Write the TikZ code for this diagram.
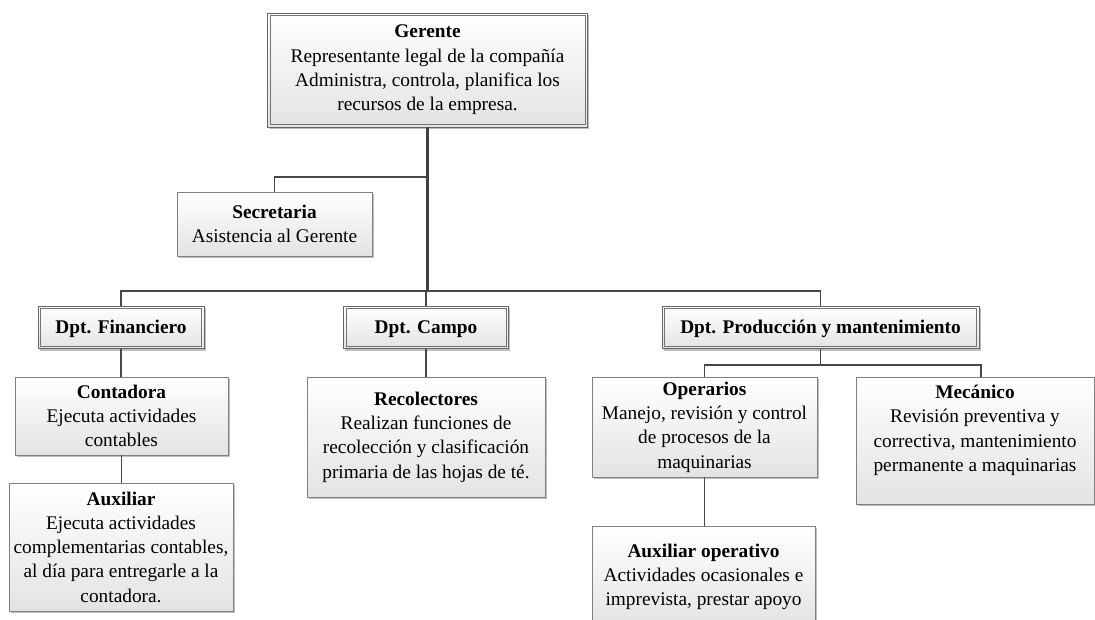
\documentclass[tikz,border=0pt]{standalone}
\usepackage{fontspec}
\setmainfont{Liberation Serif}
\usetikzlibrary{shadows}
\begin{document}
\begin{tikzpicture}[x=0.75pt,y=-0.75pt,
  txt/.style={font=\fontsize{14.5pt}{18.2pt}\selectfont, align=center},
  card/.style={txt, rectangle, draw=black!50, line width=0.6pt,
    top color=white, bottom color=black!11, inner sep=0pt,
    drop shadow={shadow xshift=1.4pt, shadow yshift=-1.4pt, fill=black!45, opacity=0.55}},
  headcard/.style={card, draw=black!60, line width=0.7pt},
  deptcard/.style={headcard, minimum height=32pt, text height=11pt, text depth=2pt},
  innerframe/.style={draw=black!55, line width=0.6pt},
  conn/.style={draw=black!72, line width=1.1pt},
  trunk/.style={draw=black!75, line width=2.3pt}]
\clip (0,0) rectangle (1095,620);
\fill[white] (0,0) rectangle (1095,620);

% top management
\node[headcard, minimum width=240pt, minimum height=85.5pt] (ger) at (427.5,70)
  {\textbf{Gerente}\\Representante legal de la compañía\\Administra, controla, planifica los\\recursos de la empresa.};
\node[card, minimum width=146.25pt, minimum height=48pt] (sec) at (274.5,224)
  {\textbf{Secretaria}\\Asistencia al Gerente};

% departments
\node[deptcard, minimum width=124.5pt] (fin) at (121,327.5) {\textbf{Dpt. Financiero}};
\node[deptcard, minimum width=123.75pt] (cam) at (426,327.5) {\textbf{Dpt. Campo}};
\node[deptcard, minimum width=237.75pt] (pro) at (820.5,327.5) {\textbf{Dpt. Producción y mantenimiento}};

% inner frame of the double-bordered boxes
\foreach \n in {ger,fin,cam,pro}
  \draw[innerframe] ([shift={(2.2pt,-2.2pt)}]\n.north west) rectangle ([shift={(-2.2pt,2.2pt)}]\n.south east);

% staff
\node[card, minimum width=159.75pt, minimum height=58.5pt] (con) at (121.5,416)
  {\textbf{Contadora}\\Ejecuta actividades\\contables};
\node[card, minimum width=168pt, minimum height=96pt] (aux) at (121,547)
  {\textbf{Auxiliar}\\Ejecuta actividades\\complementarias contables,\\al día para entregarle a la\\contadora.};
\node[card, minimum width=178.5pt, minimum height=90pt] (rec) at (426,437)
  {\textbf{Recolectores}\\Realizan funciones de\\recolección y clasificación\\primaria de las hojas de té.};
\node[card, minimum width=168.75pt, minimum height=75pt] (ope) at (704.5,427)
  {\textbf{Operarios}\\Manejo, revisión y control\\de procesos de la\\maquinarias};
\node[card, minimum width=178.5pt, minimum height=95.25pt] (mec) at (975,440.5)
  {\textbf{Mecánico}\\Revisión preventiva y\\correctiva, mantenimiento\\permanente a maquinarias\\ \mbox{}};
\node[card, minimum width=167.25pt, minimum height=76.5pt] (auxo) at (703.5,577)
  {\textbf{Auxiliar operativo}\\Actividades ocasionales e\\imprevista, prestar apoyo};

% junction levels
\coordinate (sj) at (0,177);
\coordinate (bus) at (0,291);
\coordinate (pj) at (0,365);
\coordinate (mecin) at ([xshift=4.5pt]mec.north);

% connectors
\draw[conn] (sec.north) |- (ger.south |- sj);
\draw[conn] (fin.north) -- (fin.north |- bus) -- (pro.north |- bus) -- (pro.north);
\draw[conn] (cam.north |- bus) -- (cam.north);
\draw[trunk] (ger.south) -- (ger.south |- bus);
\draw[conn] (fin.south) -- (fin.south |- con.north);
\draw[conn] (con.south) -- (con.south |- aux.north);
\draw[conn] (cam.south) -- (cam.south |- rec.north);
\draw[conn] (pro.south) -- (pro.south |- pj);
\draw[conn] (ope.north) |- (pro.south |- pj) -| (mecin);
\draw[conn] (ope.south) -- (ope.south |- auxo.north);
\end{tikzpicture}
\end{document}
